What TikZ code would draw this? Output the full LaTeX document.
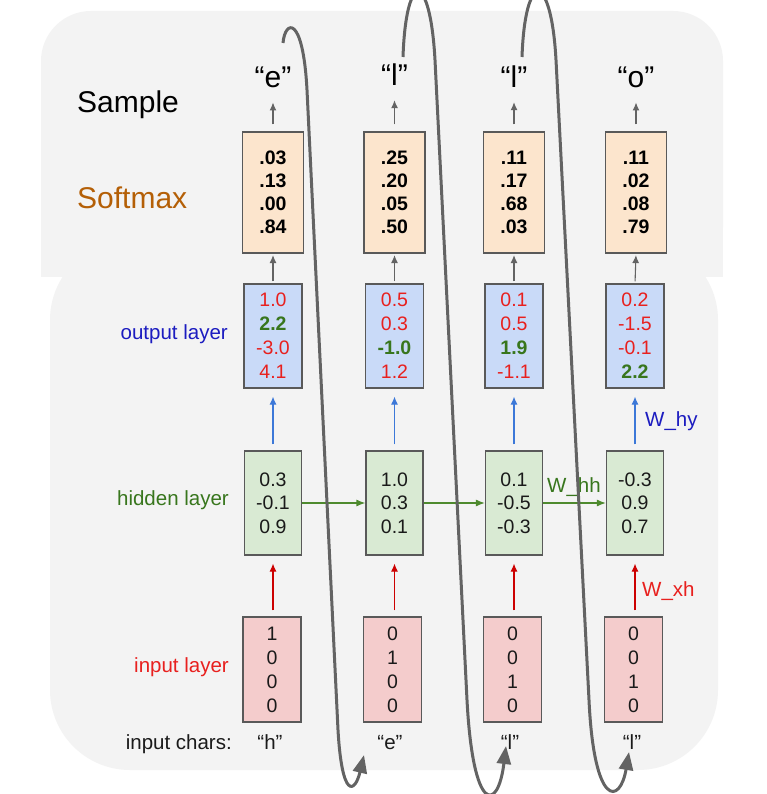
\documentclass[tikz,border=0pt]{standalone}
\usepackage{fontspec}
\setmainfont{Liberation Sans}
\usetikzlibrary{arrows.meta}
\definecolor{bg}{HTML}{F3F3F3}
\definecolor{peach}{HTML}{FCE5CD}
\definecolor{lblue}{HTML}{C9DAF8}
\definecolor{lgreen}{HTML}{D9EAD3}
\definecolor{lred}{HTML}{F4CCCC}
\definecolor{boxline}{HTML}{595959}
\definecolor{numred}{HTML}{E8201E}
\definecolor{numgreen}{HTML}{38761D}
\definecolor{lblblue}{HTML}{1C1CC0}
\definecolor{arrblue}{HTML}{3C78D8}
\definecolor{arrred}{HTML}{CC0000}
\definecolor{arrgreen}{HTML}{4E8A2E}
\definecolor{softc}{HTML}{B45F06}
\definecolor{curvec}{HTML}{636363}
\definecolor{txt}{HTML}{1A1A1A}
\begin{document}
\begin{tikzpicture}[x=1pt,y=-1pt,
  vbox/.style={draw=boxline, line width=1.2pt, inner sep=0pt, align=center, text=txt, font=\fontsize{19.5}{24}\selectfont},
  softbox/.style={vbox, fill=peach, minimum width=61pt, minimum height=121pt, text=black, font=\fontsize{19.5}{23}\selectfont\bfseries},
  outbox/.style={vbox, fill=lblue, minimum width=58pt, minimum height=104pt},
  hidbox/.style={vbox, fill=lgreen, minimum width=57pt, minimum height=104pt, font=\fontsize{19.5}{23.5}\selectfont},
  inbox/.style={vbox, fill=lred, minimum width=58pt, minimum height=105pt},
  samplechar/.style={inner sep=0pt, anchor=base, font=\fontsize{30}{36}\selectfont},
  inchar/.style={inner sep=0pt, anchor=base, text=txt, font=\fontsize{20.5}{24}\selectfont},
  lbl/.style={inner sep=0pt, font=\fontsize{20.5}{24}\selectfont},
  biglbl/.style={inner sep=0pt, anchor=base west, font=\fontsize{30}{36}\selectfont},
  grayarrow/.style={draw=curvec, line width=1.1pt, -{Latex[length=8pt,width=7pt]}},
  bluearrow/.style={draw=arrblue, line width=1.1pt, -{Latex[length=8pt,width=7pt]}},
  redarrow/.style={draw=arrred, line width=1.1pt, -{Latex[length=8pt,width=7pt]}},
  greenarrow/.style={draw=arrgreen, line width=1.2pt, -{Latex[length=9pt,width=7pt]}},
  bigcurve/.style={draw=curvec, line width=3pt, -{Triangle[length=18pt,width=14pt]}}
]
\useasboundingbox (0,0) rectangle (766,794);
\begin{scope}
\clip (0,0) rectangle (766,794);
\fill[white] (0,0) rectangle (766,794);
% background regions
\fill[bg, rounded corners=80pt] (50,240) rectangle (718,770);
\fill[bg, rounded corners=50pt] (41,11) rectangle (723,277);
\fill[bg] (41,200) rectangle (723,277);

% labels
\node[biglbl] (lsample) at (77,113) {Sample};
\node[biglbl, text=softc] (lsoft) at (77,209) {Softmax};
\node[lbl, anchor=east, text=lblblue] (lout) at (228,334) {output layer};
\node[lbl, anchor=east, text=numgreen] (lhid) at (229,500) {hidden layer};
\node[lbl, anchor=east, text=numred] (lin) at (229,667) {input layer};
\node[lbl, anchor=base east, text=txt] (lchars) at (232,749) {input chars:};

% sample chars
\node[samplechar] (c1) at (273,88) {“e”};
\node[samplechar] (c2) at (394.5,86) {“l”};
\node[samplechar] (c3) at (514,88) {“l”};
\node[samplechar] (c4) at (636,88) {“o”};

% softmax boxes
\node[softbox] (s1) at (273,192.5) {.03\\.13\\.00\\.84};
\node[softbox] (s2) at (394.5,192.5) {.25\\.20\\.05\\.50};
\node[softbox] (s3) at (514,192.5) {.11\\.17\\.68\\.03};
\node[softbox] (s4) at (636,192.5) {.11\\.02\\.08\\.79};

% output boxes
\node[outbox] (o1) at (273,336) {\textcolor{numred}{1.0}\\\textcolor{numgreen}{\bfseries 2.2}\\\textcolor{numred}{-3.0}\\\textcolor{numred}{4.1}};
\node[outbox] (o2) at (394.5,336) {\textcolor{numred}{0.5}\\\textcolor{numred}{0.3}\\\textcolor{numgreen}{\bfseries -1.0}\\\textcolor{numred}{1.2}};
\node[outbox] (o3) at (514,336) {\textcolor{numred}{0.1}\\\textcolor{numred}{0.5}\\\textcolor{numgreen}{\bfseries 1.9}\\\textcolor{numred}{-1.1}};
\node[outbox] (o4) at (635,336) {\textcolor{numred}{0.2}\\\textcolor{numred}{-1.5}\\\textcolor{numred}{-0.1}\\\textcolor{numgreen}{\bfseries 2.2}};

% hidden boxes
\node[hidbox] (h1) at (273,503) {0.3\\-0.1\\0.9};
\node[hidbox] (h2) at (394.5,503) {1.0\\0.3\\0.1};
\node[hidbox] (h3) at (514,503) {0.1\\-0.5\\-0.3};
\node[hidbox] (h4) at (635,503) {-0.3\\0.9\\0.7};

% input boxes
\node[inbox] (x1) at (272,669.5) {1\\0\\0\\0};
\node[inbox] (x2) at (392.5,669.5) {0\\1\\0\\0};
\node[inbox] (x3) at (512.5,669.5) {0\\0\\1\\0};
\node[inbox] (x4) at (633.5,669.5) {0\\0\\1\\0};

% input chars
\node[inchar] (i1) at (270,749) {“h”};
\node[inchar] (i2) at (390,749) {“e”};
\node[inchar] (i3) at (510,749) {“l”};
\node[inchar] (i4) at (632,749) {“l”};

% weight labels
\node[lbl, anchor=west, text=lblblue] (why) at (645,421) {W\_hy};
\node[lbl, anchor=west, text=numred] (wxh) at (642,591) {W\_xh};
\node[lbl, anchor=west, text=numgreen] (whh) at (547,487) {W\_hh};

% arrows
\foreach \i in {1,2,3,4}{
  \draw[grayarrow, shorten <=7pt, shorten >=14pt] (s\i.north) -- (s\i.north |- c\i.south);
  \draw[grayarrow, shorten <=2pt, shorten >=1.5pt] (o\i.north) -- (s\i.south);
  \draw[bluearrow, shorten <=6pt, shorten >=8pt] (h\i.north) -- (o\i.south);
  \draw[redarrow, shorten <=6pt, shorten >=8pt] (x\i.north -| h\i.south) -- (h\i.south);
}
\draw[greenarrow] (h1.east) -- (h2.west);
\draw[greenarrow] (h2.east) -- (h3.west);
\draw[greenarrow] (h3.east) -- (h4.west);

% big feedback curves
\coordinate (k1a) at (283,43);
\coordinate (k1b) at (364,755);
\coordinate (k2a) at (403,57);
\coordinate (k2b) at (506,746);
\coordinate (k3a) at (522,57);
\coordinate (k3b) at (629,752);
\draw[bigcurve] (k1a) .. controls (285,20) and (303,14) .. (307,90) -- (338,730) .. controls (342,800) and (355,793) .. (k1b);
\draw[bigcurve] (k2a) .. controls (406,-30) and (430,-30) .. (435,60) -- (467,700) .. controls (473,815) and (498,812) .. (k2b);
\draw[bigcurve] (k3a) .. controls (525,-30) and (551,-30) .. (556,60) -- (589,700) .. controls (594,808) and (620,805) .. (k3b);
\end{scope}
\end{tikzpicture}
\end{document}
